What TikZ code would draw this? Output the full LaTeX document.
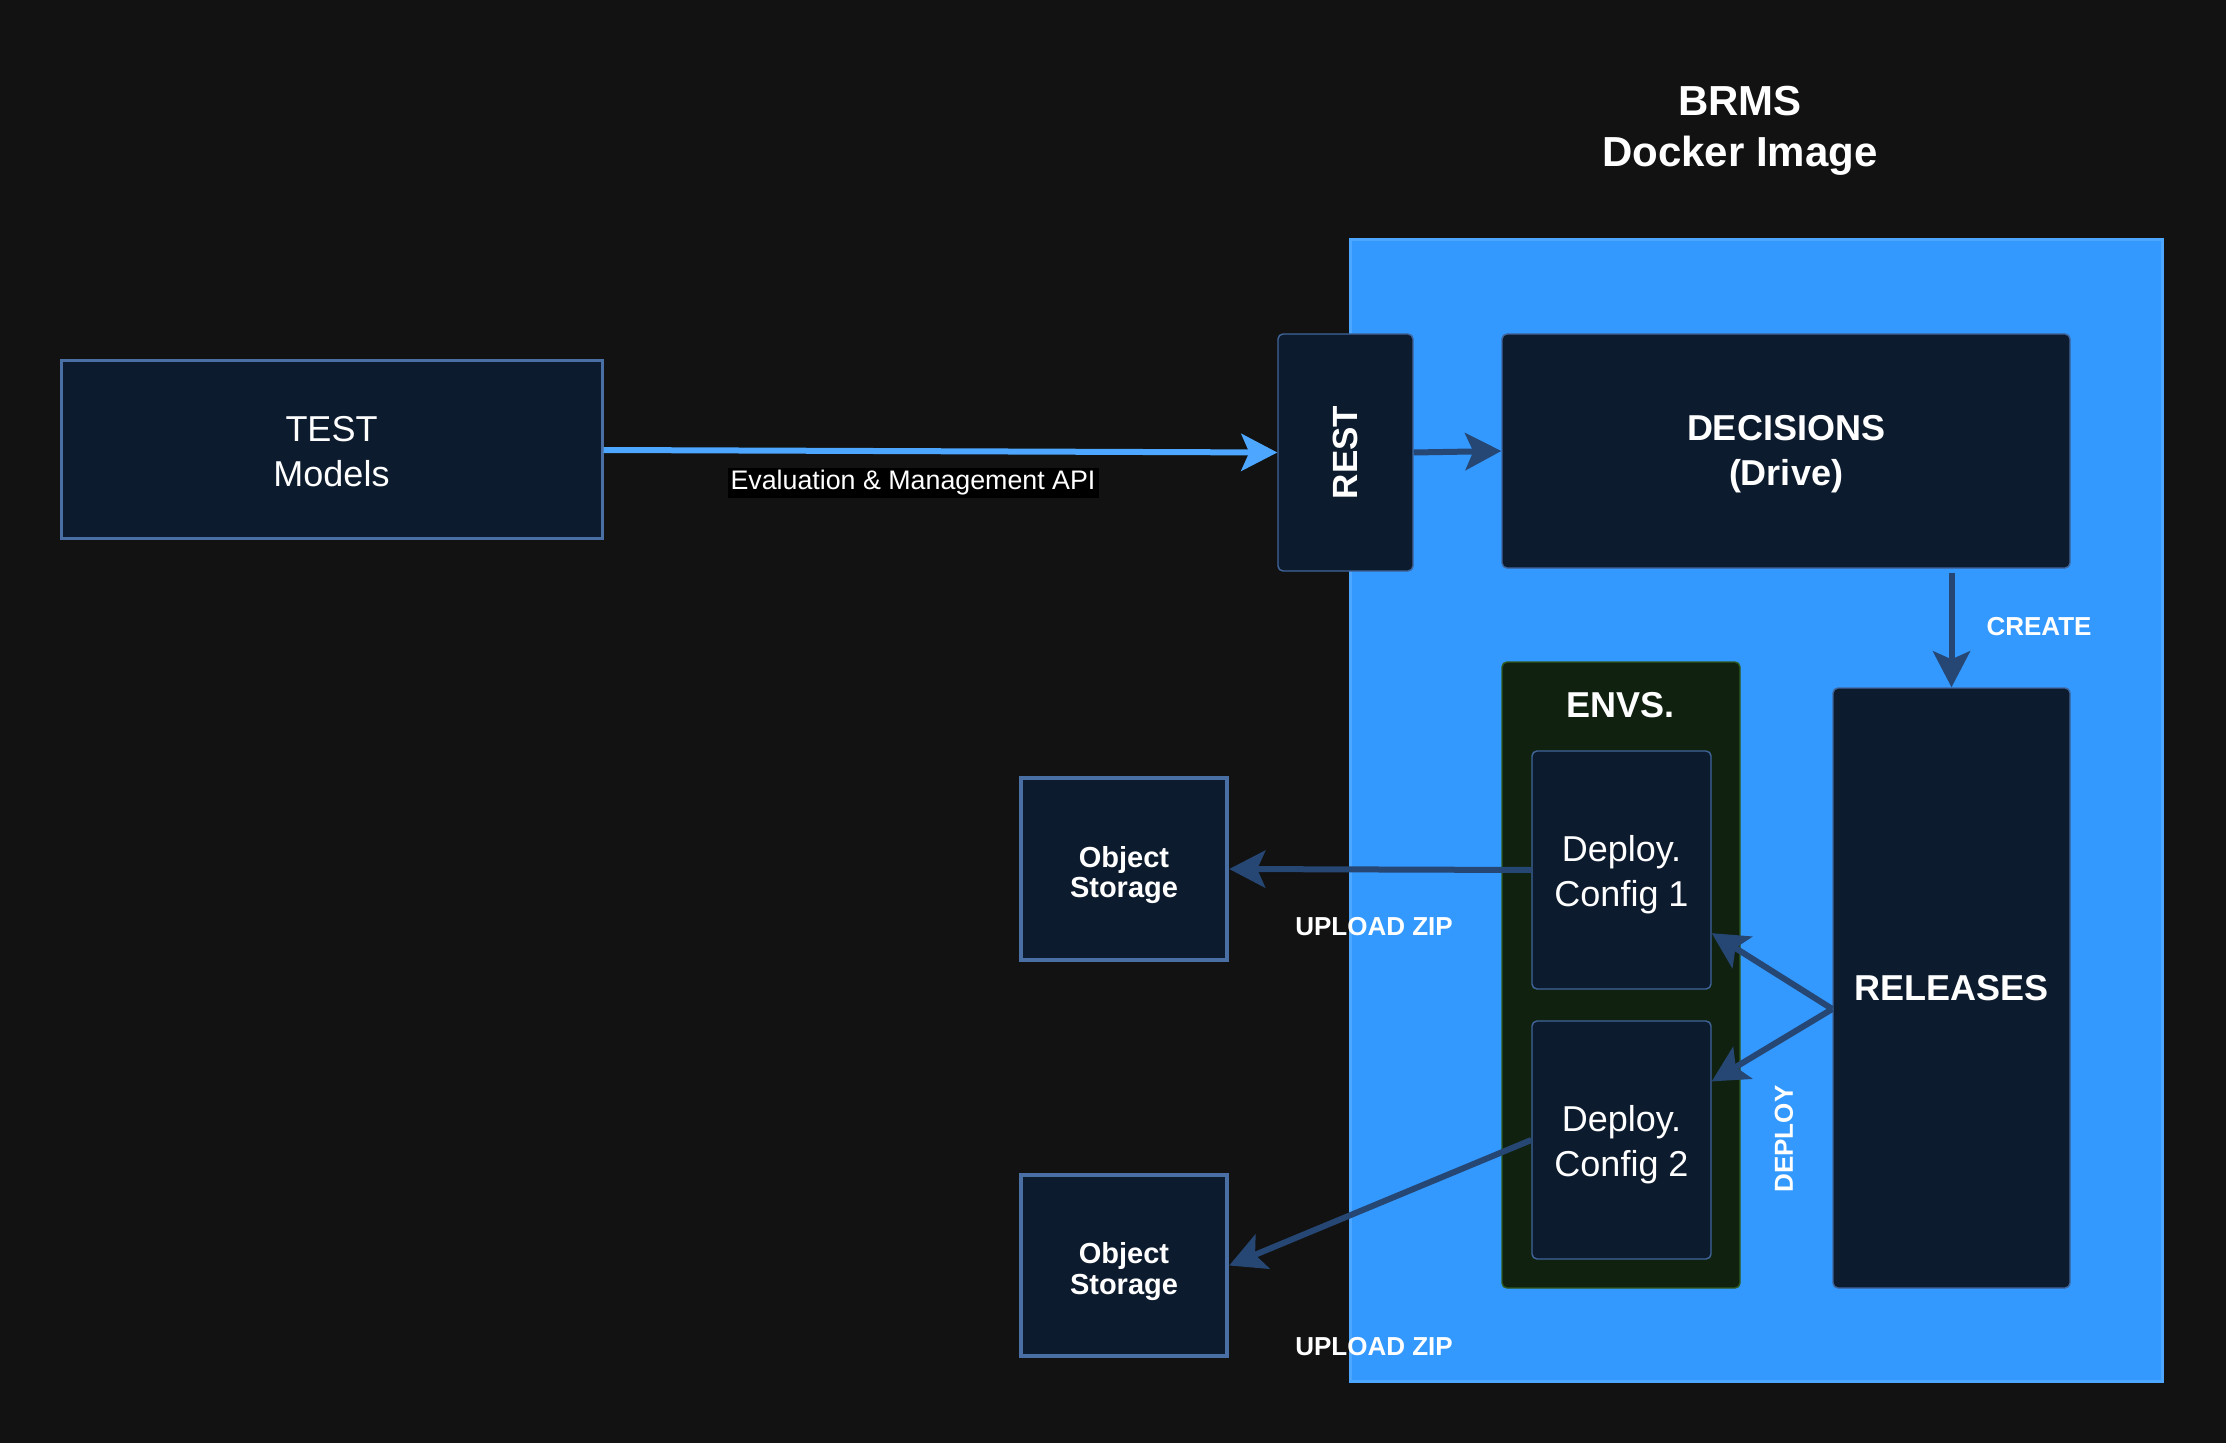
\documentclass[tikz,border=0pt]{standalone}
\usepackage{fontspec}
\setmainfont{Liberation Sans}
\usetikzlibrary{arrows.meta}
\definecolor{bg}{HTML}{121212}
\definecolor{panel}{HTML}{3399FF}
\definecolor{panelborder}{HTML}{4DA6FF}
\definecolor{navy}{HTML}{0D1B2E}
\definecolor{navyborder}{HTML}{4A6FA5}
\definecolor{thinborder}{HTML}{3F659A}
\definecolor{envfill}{HTML}{10220F}
\definecolor{envborder}{HTML}{2E5A1E}
\definecolor{arrowdark}{HTML}{264673}
\definecolor{arrowlight}{HTML}{4DA6FF}
\begin{document}
\begin{tikzpicture}[x=0.5pt,y=-0.5pt,
  box/.style={rectangle, fill=navy, text=white, align=center, inner sep=0pt},
  thinbox/.style={box, draw=thinborder, line width=0.7pt, rounded corners=2.5pt},
  bigtext/.style={text=white, align=center, font=\fontsize{18pt}{22.5pt}\selectfont},
  bigbold/.style={text=white, align=center, font=\fontsize{18pt}{22.5pt}\selectfont\bfseries},
  objtext/.style={text=white, align=center, font=\fontsize{14.5pt}{15.2pt}\selectfont\bfseries},
  smallbold/.style={text=white, font=\fontsize{13pt}{16pt}\selectfont\bfseries},
  tip/.style={-{Stealth[length=18pt,width=18.5pt,inset=4pt]}},
  flow/.style={draw=arrowdark, line width=3pt, tip},
  lightflow/.style={draw=arrowlight, line width=3pt, tip}
]
\useasboundingbox (0,0) rectangle (2226,1443);
\fill[bg] (0,0) rectangle (2226,1443);

% container
\node[rectangle, fill=panel, draw=panelborder, line width=1.5pt, minimum width=406pt, minimum height=570.5pt, inner sep=0pt] (brms) at (1756,810.5) {};
\node[text=white, align=center, font=\fontsize{21pt}{25.5pt}\selectfont\bfseries] (title) at (1740,131) {BRMS\\Docker Image};

% left box
\node[box, draw=navyborder, line width=1.5pt, minimum width=270.5pt, minimum height=89pt,
  label={[bigtext, yshift=-1pt]center:TEST\\Models}] (test) at (331.5,450) {};

% REST
\node[thinbox, minimum width=67.5pt, minimum height=118.5pt] (rest) at (1345.5,452.5) {};
\node[rotate=90, text=white, font=\fontsize{17.5pt}{21pt}\selectfont\bfseries] (resttxt) at (rest.center) {REST};

% DECISIONS
\node[thinbox, minimum width=284pt, minimum height=117pt,
  label={[bigbold, yshift=-1.5pt]center:DECISIONS\\(Drive)}] (dec) at (1786,451) {};

% ENVS
\node[rectangle, fill=envfill, draw=envborder, line width=0.7pt, rounded corners=2.5pt, minimum width=119pt, minimum height=313pt, inner sep=0pt] (envs) at (1621,975) {};
\node[bigbold] (envtxt) at (1620,705) {ENVS.};
\node[thinbox, minimum width=89.5pt, minimum height=119pt,
  label={[bigtext, yshift=-2.5pt]center:Deploy.\\Config 1}] (c1) at (1621.5,870) {};
\node[thinbox, minimum width=89.5pt, minimum height=119pt,
  label={[bigtext, yshift=-2.5pt]center:Deploy.\\Config 2}] (c2) at (1621.5,1140) {};

% RELEASES
\node[thinbox, minimum width=118.5pt, minimum height=300pt, bigbold] (rel) at (1951.5,988) {RELEASES};

% object storages
\node[box, draw=navyborder, line width=2.2pt, minimum width=103pt, minimum height=91pt,
  label={[objtext, yshift=-3pt]center:Object\\Storage}] (o1) at (1124,869) {};
\node[box, draw=navyborder, line width=2.2pt, minimum width=103pt, minimum height=90.5pt,
  label={[objtext, yshift=-3pt]center:Object\\Storage}] (o2) at (1124,1265.5) {};

% connectors
\draw[lightflow] (test.east) -- (rest.west);
\node[fill=black, text=white, inner sep=1.5pt, font=\fontsize{13.4pt}{15pt}\selectfont] (apilbl) at (913,483) {Evaluation \& Management API};
\draw[flow] (rest.east) -- (dec.west);
\draw[flow] ([yshift=-2pt]rel.north |- dec.south) -- (rel.north);
\node[smallbold] (createlbl) at (2039,627) {CREATE};
\draw[flow] (c1.west) -- (o1.east);
\draw[flow] (c2.west) -- (o2.east);
\node[smallbold] (up1) at (1374,927) {UPLOAD ZIP};
\node[smallbold] (up2) at (1374,1347) {UPLOAD ZIP};
\draw[flow] (rel.190) -- (c1.-35);
\draw[flow] (rel.190) -- (c2.33);
\node[smallbold, rotate=90] (deploylbl) at (1784,1139) {DEPLOY};
\end{tikzpicture}
\end{document}
